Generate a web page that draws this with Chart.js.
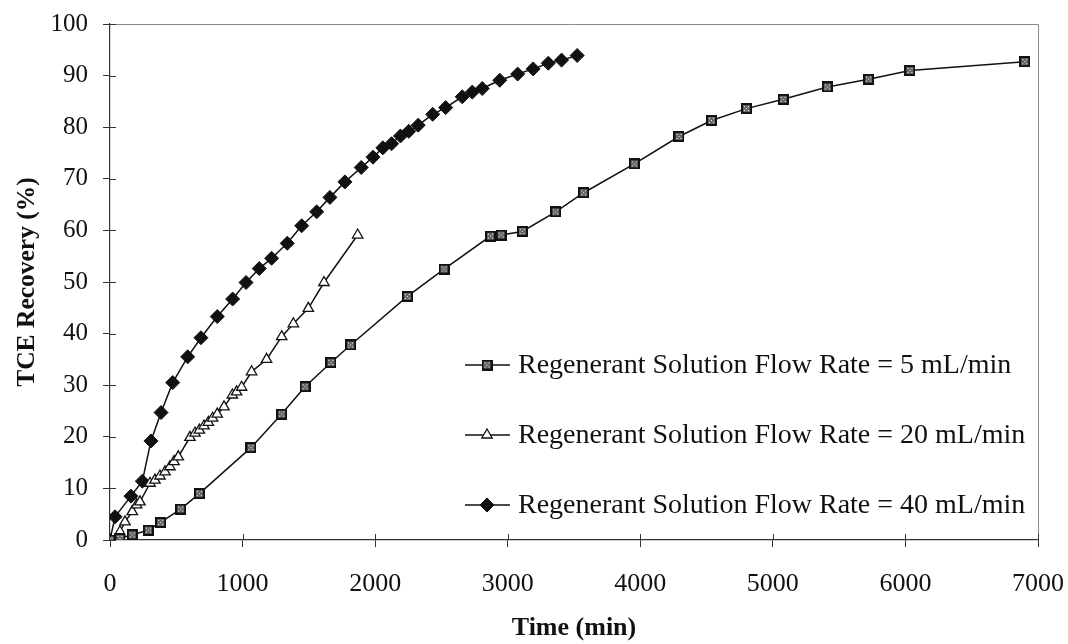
<!DOCTYPE html>
<html>
<head>
<meta charset="utf-8">
<script src="https://cdn.jsdelivr.net/npm/chart.js@4.4.1/dist/chart.umd.min.js"></script>
<style>
  html, body { margin: 0; padding: 0; background: #fff; }
  #wrap { width: 1068px; height: 644px; position: relative; }
</style>
</head>
<body>
<div id="wrap"><canvas id="chart"></canvas></div>
<script>
// time (min) vs TCE recovery (%)
const time5 = [0, 75, 168, 289, 382, 533, 674, 1063, 1295, 1471, 1667, 1815, 2243, 2520, 2870, 2950, 3110, 3362, 3573, 3955, 4292, 4537, 4801, 5078, 5411, 5722, 6034, 6900];
const rec5  = [0, 0.3, 1.0, 1.9, 3.4, 6.0, 9.0, 17.9, 24.4, 29.7, 34.4, 37.8, 47.2, 52.5, 58.9, 59.1, 59.8, 63.6, 67.3, 72.9, 78.2, 81.3, 83.6, 85.4, 87.8, 89.3, 91.0, 92.7];

const time20 = [0, 75, 113, 168, 201, 226, 302, 339, 377, 415, 452, 483, 515, 603, 641, 674, 709, 742, 774, 809, 860, 923, 955, 993, 1068, 1181, 1295, 1383, 1496, 1614, 1868];
const rec20  = [0, 1.6, 3.5, 5.5, 6.8, 7.4, 11.0, 11.6, 12.4, 13.2, 14.2, 15.2, 16.1, 19.9, 20.7, 21.3, 22.1, 22.8, 23.6, 24.4, 25.8, 28.1, 28.7, 29.6, 32.6, 35.0, 39.4, 41.9, 44.9, 49.9, 59.1];

const time40 = [0, 38, 158, 244, 309, 385, 473, 586, 686, 809, 925, 1026, 1126, 1219, 1337, 1446, 1559, 1659, 1772, 1895, 1984, 2058, 2124, 2191, 2254, 2325, 2434, 2532, 2657, 2733, 2808, 2940, 3075, 3192, 3306, 3406, 3524];
const rec40  = [0, 4.5, 8.5, 11.4, 19.2, 24.7, 30.5, 35.5, 39.2, 43.3, 46.7, 49.9, 52.6, 54.6, 57.5, 60.9, 63.6, 66.4, 69.4, 72.2, 74.2, 76.0, 76.8, 78.3, 79.2, 80.4, 82.5, 83.8, 85.9, 86.8, 87.5, 89.1, 90.3, 91.3, 92.4, 93.0, 93.9];

const seriesLabels = [
    'Regenerant Solution Flow Rate = 5 mL/min',
    'Regenerant Solution Flow Rate = 20 mL/min',
    'Regenerant Solution Flow Rate = 40 mL/min'
];
const xTicks = [0, 1000, 2000, 3000, 4000, 5000, 6000, 7000];
const yTicks = [0, 10, 20, 30, 40, 50, 60, 70, 80, 90, 100];

const serif = "'Liberation Serif', 'Times New Roman', serif";

function toPoints(xs, ys) {
    return xs.map((x, i) => ({ x: x, y: ys[i] }));
}

// the dotted square marker of the 5 mL/min series
function makeSquareMarker() {
    const c = document.createElement('canvas');
    c.width = 11;
    c.height = 11;
    const g = c.getContext('2d');
    g.fillStyle = '#111';
    g.fillRect(0, 0, 11, 11);
    g.fillStyle = '#666';
    g.fillRect(2, 2, 7, 7);
    g.fillStyle = '#eee';
    [[3, 3], [7, 3], [5, 5], [3, 7], [7, 7]].forEach(p => g.fillRect(p[0], p[1], 1, 1));
    return c;
}
const squareMarker = makeSquareMarker();

// box round the plot, and tick marks that cross the axes
const framePlugin = {
    id: 'frame',
    beforeDatasetsDraw(chart) {
        const { ctx, chartArea: a, scales } = chart;
        ctx.save();
        ctx.strokeStyle = '#8a8a8a';
        ctx.lineWidth = 1;
        ctx.beginPath();
        ctx.moveTo(a.left, a.top + 0.5);
        ctx.lineTo(a.right + 0.5, a.top + 0.5);
        ctx.lineTo(a.right + 0.5, a.bottom);
        ctx.stroke();
        ctx.strokeStyle = '#333';
        ctx.beginPath();
        yTicks.forEach(v => {
            const y = Math.round(scales.y.getPixelForValue(v)) + 0.5;
            ctx.moveTo(a.left, y);
            ctx.lineTo(a.left + 6, y);
        });
        xTicks.forEach(v => {
            const x = Math.round(scales.x.getPixelForValue(v)) + 0.5;
            ctx.moveTo(x, a.bottom);
            ctx.lineTo(x, a.bottom - 6);
        });
        ctx.stroke();
        ctx.restore();
    }
};

// legend sits inside the plot, lower right
const legendPlugin = {
    id: 'insideLegend',
    afterDatasetsDraw(chart) {
        const { ctx, chartArea: a } = chart;
        const x0 = a.left + 355;
        const rowY = [a.top + 341, a.top + 411, a.top + 481];
        ctx.save();
        chart.data.datasets.forEach((ds, i) => {
            const y = rowY[i];
            ctx.strokeStyle = '#111';
            ctx.lineWidth = 1.5;
            ctx.beginPath();
            ctx.moveTo(x0, y);
            ctx.lineTo(x0 + 45, y);
            ctx.stroke();
            ctx.fillStyle = ds.pointBackgroundColor;
            ctx.strokeStyle = ds.pointBorderColor;
            ctx.lineWidth = ds.pointBorderWidth;
            Chart.helpers.drawPoint(ctx, {
                pointStyle: ds.pointStyle,
                radius: ds.pointRadius,
                borderWidth: ds.pointBorderWidth
            }, x0 + 22, y);
            ctx.fillStyle = '#111';
            ctx.font = '28px ' + serif;
            ctx.textBaseline = 'middle';
            ctx.textAlign = 'left';
            ctx.fillText(ds.label, x0 + 53, y + 1);
        });
        ctx.restore();
    }
};

document.addEventListener('DOMContentLoaded', () => {
    const ctx = document.getElementById('chart').getContext('2d');

    new Chart(ctx, {
        type: 'line',
        data: {
            datasets: [
                {
                    label: seriesLabels[0],
                    data: toPoints(time5, rec5),
                    borderColor: '#111',
                    borderWidth: 1.5,
                    pointStyle: squareMarker,
                    pointRadius: 5,
                    pointBorderWidth: 1,
                    pointBackgroundColor: '#555',
                    pointBorderColor: '#111'
                },
                {
                    label: seriesLabels[1],
                    data: toPoints(time20, rec20),
                    borderColor: '#111',
                    borderWidth: 1.5,
                    pointStyle: 'triangle',
                    pointRadius: 6,
                    pointBorderWidth: 1.3,
                    pointBackgroundColor: '#fff',
                    pointBorderColor: '#111'
                },
                {
                    label: seriesLabels[2],
                    data: toPoints(time40, rec40),
                    borderColor: '#111',
                    borderWidth: 1.5,
                    pointStyle: 'rectRot',
                    pointRadius: 7,
                    pointBorderWidth: 1,
                    pointBackgroundColor: '#111',
                    pointBorderColor: '#111'
                }
            ]
        },
        options: {
            responsive: true,
            maintainAspectRatio: false,
            animation: false,
            layout: {
                padding: { left: 0, right: 30, top: 24, bottom: 0 }
            },
            plugins: {
                legend: { display: false },
                tooltip: { enabled: false }
            },
            scales: {
                x: {
                    type: 'linear',
                    min: 0,
                    max: 7000,
                    afterFit: (scale) => {
                        scale.height = 104;
                        scale.paddingLeft = 0;
                        scale.paddingRight = 0;
                    },
                    afterBuildTicks: (scale) => { scale.ticks = xTicks.map(v => ({ value: v })); },
                    border: { color: '#333', width: 1.2 },
                    grid: { drawOnChartArea: false, tickLength: 7, color: '#333' },
                    ticks: {
                        color: '#111',
                        padding: 22,
                        maxRotation: 0,
                        font: { family: serif, size: 26 },
                        callback: (v) => String(v)
                    },
                    title: {
                        display: true,
                        text: 'Time (min)',
                        color: '#111',
                        padding: { top: 0, bottom: 0 },
                        font: { family: serif, size: 26, weight: 'bold' }
                    }
                },
                y: {
                    min: 0,
                    max: 100,
                    afterFit: (scale) => {
                        scale.width = 110;
                        scale.paddingTop = 0;
                        scale.paddingBottom = 0;
                    },
                    afterBuildTicks: (scale) => { scale.ticks = yTicks.map(v => ({ value: v })); },
                    border: { color: '#333', width: 1.2 },
                    grid: { drawOnChartArea: false, tickLength: 7, color: '#333' },
                    ticks: {
                        color: '#111',
                        padding: 15,
                        font: { family: serif, size: 25 },
                        callback: (v) => String(v)
                    },
                    title: {
                        display: true,
                        text: 'TCE Recovery (%)',
                        color: '#111',
                        padding: { top: 12, bottom: 0 },
                        font: { family: serif, size: 25.5, weight: 'bold' }
                    }
                }
            }
        },
        plugins: [framePlugin, legendPlugin]
    });
});
</script>
</body>
</html>
